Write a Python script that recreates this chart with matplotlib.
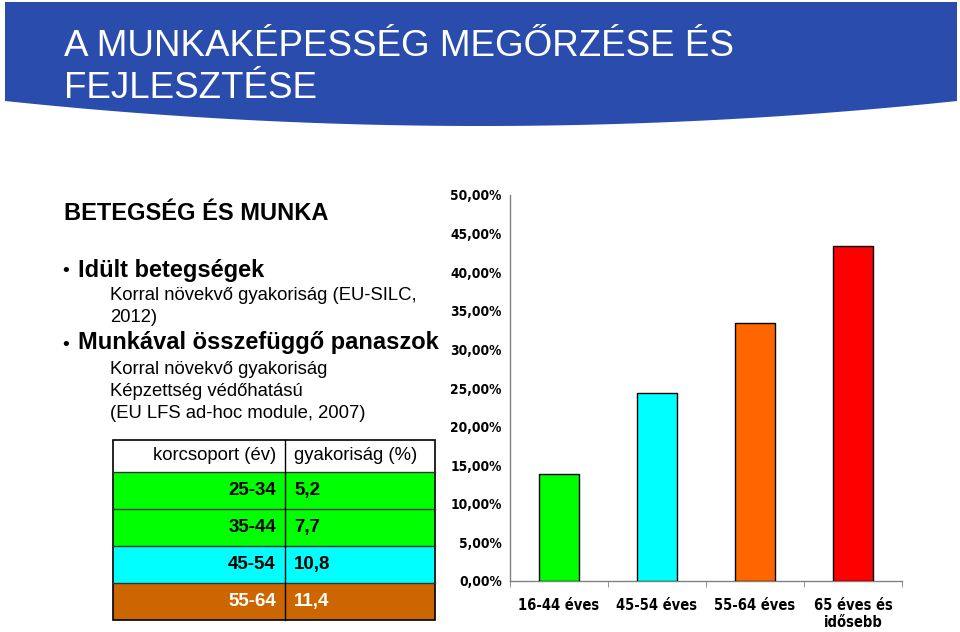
import numpy as np
import matplotlib
matplotlib.use("Agg")
import matplotlib.pyplot as plt
from matplotlib.patches import Polygon, Rectangle
from matplotlib.ticker import FuncFormatter, MultipleLocator
from matplotlib import font_manager

# chart data
age_groups = ['16-44 éves', '45-54 éves', '55-64 éves', '65 éves és\nidősebb']
shares = [13.9, 24.4, 33.4, 43.4]
bar_colors = ['#00FF00', '#00FFFF', '#FF6600', '#FF0000']

# table data
table_header = ['korcsoport (év)', 'gyakoriság (%)']
table_ages = ['25-34', '35-44', '45-54', '55-64']
table_freq = ['5,2', '7,7', '10,8', '11,4']
table_colors = ['#00FF00', '#00FF00', '#00FFFF', '#CC6600']
table_text_colors = ['black', 'black', 'black', 'white']

title_lines = ['A MUNKAKÉPESSÉG MEGŐRZÉSE ÉS', 'FEJLESZTÉSE']
bullets = [
    ('BETEGSÉG ÉS MUNKA', 'head'),
    ('Idült betegségek', 'bullet'),
    ('Korral növekvő gyakoriság (EU-SILC,', 'sub'),
    ('2012)', 'sub'),
    ('Munkával összefüggő panaszok', 'bullet'),
    ('Korral növekvő gyakoriság', 'sub'),
    ('Képzettség védőhatású', 'sub'),
    ('(EU LFS ad-hoc module, 2007)', 'sub'),
]
bullet_y = [213, 270, 296, 317, 343, 370, 391, 413]

# look for a narrow bold face for the chart labels (Arial Narrow look)
narrow_file = None
for f in font_manager.fontManager.ttflist:
    name = f.fname.lower()
    if ('narrow' in name or 'condensed' in name) and 'bold' in name and 'oblique' not in name and 'italic' not in name:
        narrow_file = f.fname
        break
if narrow_file:
    tick_font = font_manager.FontProperties(fname=narrow_file, size=10.5)
    ytick_font = font_manager.FontProperties(fname=narrow_file, size=9.8)
else:
    tick_font = font_manager.FontProperties(family='DejaVu Sans', weight='bold', size=9.5)
    ytick_font = font_manager.FontProperties(family='DejaVu Sans', weight='bold', size=9)

plt.rcParams['font.family'] = ['Liberation Sans', 'DejaVu Sans']

fig = plt.figure(figsize=(9.6, 6.32), dpi=100)

# overlay in pixel coordinates
ov = fig.add_axes([0, 0, 1, 1])
ov.set_xlim(0, 960)
ov.set_ylim(632, 0)
ov.axis('off')

# header banner with curved bottom
xs = np.linspace(5, 957, 200)
bottom = 101 + 25 * (1 - ((xs - 481) / 476) ** 2)
pts = [(5, 2), (957, 2)] + list(zip(xs[::-1], bottom[::-1]))
ov.add_patch(Polygon(pts, closed=True, facecolor='#2A4CAD', edgecolor='none'))
ov.text(64, 47, title_lines[0], color='white', fontsize=26.5, va='center', ha='left')
ov.text(64, 88, title_lines[1], color='white', fontsize=26.5, va='center', ha='left')

# left text block
for (txt, kind), y in zip(bullets, bullet_y):
    if kind == 'head':
        ov.text(64, y, txt, fontsize=17, fontweight='bold', va='center')
    elif kind == 'bullet':
        ov.text(62, y + 2, '•', fontsize=14, va='center')
        ov.text(78, y, txt, fontsize=17, fontweight='bold', va='center')
    else:
        ov.text(110, y, txt, fontsize=13.3, va='center')

# table
tx0, tx1, tx2 = 113, 285, 435
row_edges = [440, 472, 509, 546, 583, 620]
ov.add_patch(Rectangle((tx0, row_edges[0]), tx2 - tx0, row_edges[1] - row_edges[0],
                       facecolor='white', edgecolor='none'))
for i, col in enumerate(table_colors):
    y0 = row_edges[i + 1]
    ov.add_patch(Rectangle((tx0, y0), tx2 - tx0, row_edges[i + 2] - y0,
                           facecolor=col, edgecolor='none'))
for y in row_edges[1:-1]:
    ov.plot([tx0, tx2], [y, y], color='#333333', lw=1)
ov.add_patch(Rectangle((tx0, row_edges[0]), tx2 - tx0, row_edges[-1] - row_edges[0],
                       facecolor='none', edgecolor='black', lw=1.2))
ov.plot([tx1, tx1], [row_edges[0], row_edges[-1]], color='black', lw=1)

hy = (row_edges[0] + row_edges[1]) / 2
ov.text(276, hy, table_header[0], fontsize=13.3, ha='right', va='center')
ov.text(294, hy, table_header[1], fontsize=13.3, ha='left', va='center')
for i in range(len(table_ages)):
    cy = (row_edges[i + 1] + row_edges[i + 2]) / 2
    ov.text(276, cy, table_ages[i], fontsize=13.5, fontweight='bold', ha='right',
            va='center', color=table_text_colors[i])
    ov.text(294, cy, table_freq[i], fontsize=13.5, fontweight='bold', ha='left',
            va='center', color=table_text_colors[i])

# bar chart
ax = fig.add_axes([510 / 960, 1 - 581 / 632, 392 / 960, 386 / 632])
x = np.arange(len(age_groups))
ax.bar(x, shares, width=0.4, color=bar_colors, edgecolor='black', linewidth=1, zorder=3)
ax.set_xlim(-0.5, len(age_groups) - 0.5)
ax.set_ylim(0, 50)
ax.yaxis.set_major_locator(MultipleLocator(5))
ax.yaxis.set_major_formatter(FuncFormatter(lambda v, p: f'{v:.2f}'.replace('.', ',') + '%'))
ax.set_xticks(x)
ax.set_xticklabels(age_groups)
ax.set_xticks(np.arange(len(age_groups) + 1) - 0.5, minor=True)
ax.tick_params(axis='x', which='major', length=0, pad=12)
ax.tick_params(axis='x', which='minor', length=4, color='#808080')
ax.tick_params(axis='y', length=0, pad=6)
for lab in ax.get_xticklabels():
    lab.set_fontproperties(tick_font)
for lab in ax.get_yticklabels():
    lab.set_fontproperties(ytick_font)
for s in ['top', 'right']:
    ax.spines[s].set_visible(False)
for s in ['left', 'bottom']:
    ax.spines[s].set_color('#808080')
    ax.spines[s].set_linewidth(1)
ax.set_facecolor('white')

fig.savefig('out.png', dpi=100)
